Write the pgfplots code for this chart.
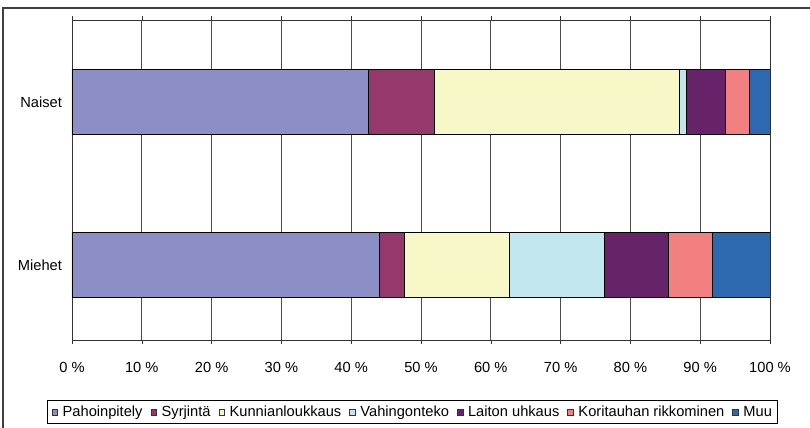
\documentclass[border=0pt]{standalone}
\usepackage{pgfplots}
\pgfplotsset{compat=1.18}
\usepackage{fontspec}
\setmainfont{Liberation Sans}
\definecolor{cPah}{RGB}{139,143,198}
\definecolor{cSyr}{RGB}{150,56,108}
\definecolor{cKun}{RGB}{248,247,200}
\definecolor{cVah}{RGB}{194,230,238}
\definecolor{cLai}{RGB}{102,35,106}
\definecolor{cKor}{RGB}{242,128,128}
\definecolor{cMuu}{RGB}{44,105,176}

\begin{document}
\begin{tikzpicture}
\path[use as bounding box] (0,0) rectangle (607.5pt,321pt);
\draw[black!75, line width=0.8pt] (2.25pt,-1pt) -- (2.25pt,315pt) -- (607.5pt,315pt);
\begin{axis}[
    at={(54pt,66pt)}, anchor=south west,
    scale only axis,
    width=523.5pt, height=240pt,
    xbar stacked,
    bar width=0.40,
    xmin=0, xmax=100,
    ymin=-0.46, ymax=1.503,
    xtick={0,10,...,100},
    xticklabel={\pgfmathprintnumber{\tick}~\%},
    ytick={0,1},
    yticklabels={Miehet,Naiset},
    ytick style={draw=none},
    extra y ticks={-0.46,0.5,1.503},
    extra y tick labels={},
    extra y tick style={major tick length=3pt, tick align=outside, tick style={black!80}},
    xtick style={black!80},
    major tick length=3pt,
    tick align=outside,
    xmajorgrids,
    grid style={black!70, line width=0.5pt},
    axis line style={black!80, line width=0.7pt},
    tick label style={font=\fontsize{11}{13}\selectfont},
    /pgf/number format/assume math mode=true,
    xticklabel shift=10pt,
    yticklabel shift=1pt,
    every axis plot/.append style={draw=black, line width=0.5pt},
    legend columns=7,
    legend style={at={(0.4878,-0.225)}, anchor=center, draw=black, line width=0.6pt,
        font=\fontsize{11}{13}\selectfont, inner xsep=3pt, inner ysep=2pt,
        nodes={inner xsep=1pt},
        /tikz/every odd column/.append style={column sep=2.5pt},
        /tikz/every even column/.append style={column sep=5pt}},
    legend image code/.code={\draw[#1, draw=black!80, line width=0.4pt] (0pt,-2.2pt) rectangle (4.4pt,2.2pt);},
]
\addplot[fill=cPah] coordinates {(44.0,0) (42.4,1)};
\addplot[fill=cSyr] coordinates {(3.6,0) (9.5,1)};
\addplot[fill=cKun] coordinates {(15.0,0) (35.1,1)};
\addplot[fill=cVah] coordinates {(13.6,0) (1.0,1)};
\addplot[fill=cLai] coordinates {(9.2,0) (5.6,1)};
\addplot[fill=cKor] coordinates {(6.4,0) (3.5,1)};
\addplot[fill=cMuu] coordinates {(8.2,0) (2.9,1)};
\legend{Pahoinpitely, Syrjintä, Kunnianloukkaus, Vahingonteko, Laiton uhkaus, Koritauhan rikkominen, Muu}
\end{axis}
\end{tikzpicture}
\end{document}
